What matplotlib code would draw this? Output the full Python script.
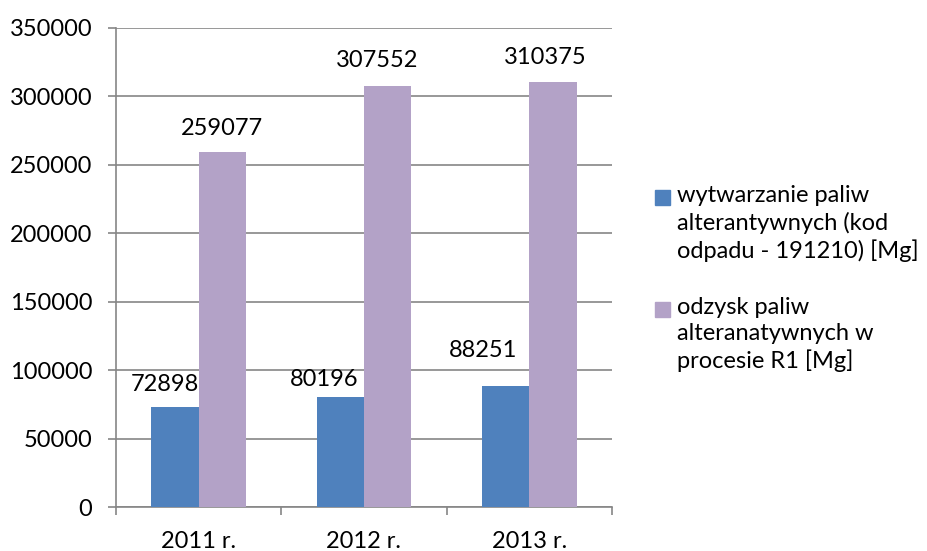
import matplotlib.pyplot as plt
from matplotlib.patches import Rectangle
import numpy as np

plt.rcParams['font.family'] = ['Lato', 'DejaVu Sans']

lata = ['2011 r.', '2012 r.', '2013 r.']
wytwarzanie = [72898, 80196, 88251]
odzysk = [259077, 307552, 310375]

nazwy = ['wytwarzanie paliw\nalterantywnych (kod\nodpadu - 191210) [Mg]',
         'odzysk paliw\nalteranatywnych w\nprocesie R1 [Mg]']
kolory = ['#4F81BD', '#B3A2C7']

# przesuniecia etykiet (px) - w oryginale etykiety byly recznie przesuniete
dx1 = [-10, -16, -23]
dy1 = [23, 18, 36]
dx2 = [0, -11, -8]
dy2 = [24, 26, 25]

fig = plt.figure(figsize=(9.27, 5.51), dpi=100)
ax = fig.add_axes([116 / 927, 44 / 551, 496 / 927, 479 / 551])

x = np.arange(len(lata))
w = 1 / 3.5
ax.bar(x - w / 2, wytwarzanie, w, color=kolory[0], zorder=3)
ax.bar(x + w / 2, odzysk, w, color=kolory[1], zorder=3)

px = 72 / 100
for i in range(len(lata)):
    ax.annotate(str(wytwarzanie[i]), (x[i] - w / 2, wytwarzanie[i]),
                xytext=(dx1[i] * px, dy1[i] * px), textcoords='offset points',
                ha='center', va='center', fontsize=17)
    ax.annotate(str(odzysk[i]), (x[i] + w / 2, odzysk[i]),
                xytext=(dx2[i] * px, dy2[i] * px), textcoords='offset points',
                ha='center', va='center', fontsize=17)

ax.set_xlim(-0.5, 2.5)
ax.set_ylim(0, 350000)
ax.set_yticks(np.arange(0, 350001, 50000))
ax.set_xticks(x)
ax.set_xticklabels(lata)
ax.set_xticks(np.arange(-0.5, 2.6, 1), minor=True)

ax.grid(axis='y', color='#868686', linewidth=1.2, zorder=0)
ax.set_axisbelow(True)
for s in ['top', 'right']:
    ax.spines[s].set_visible(False)
for s in ['left', 'bottom']:
    ax.spines[s].set_color('#868686')
    ax.spines[s].set_linewidth(1.2)

ax.tick_params(axis='y', length=6, color='#868686', width=1.2, pad=11, labelsize=17)
ax.tick_params(axis='x', which='major', length=0, pad=17, labelsize=17)
ax.tick_params(axis='x', which='minor', length=6, color='#868686', width=1.2)

# legenda rysowana recznie (kwadrat przy pierwszej linii tekstu)
W, H = 927, 551
gora = [188, 300]
for k in range(2):
    fig.patches.append(Rectangle((655 / W, 1 - (gora[k] + 17) / H), 15 / W, 15 / H,
                                 transform=fig.transFigure, color=kolory[k]))
    fig.text(677 / W, 1 - (gora[k] - 3) / H, nazwy[k], fontsize=17,
             va='top', ha='left', linespacing=1.3)

plt.savefig('out.png', dpi=100)
